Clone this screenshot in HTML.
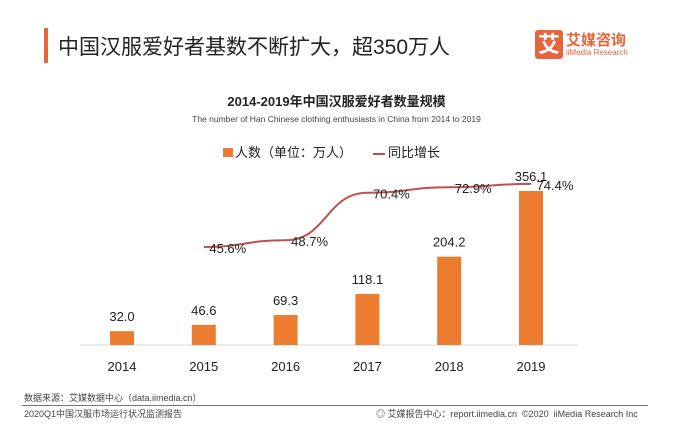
<!DOCTYPE html>
<html><head><meta charset="utf-8"><style>
body{margin:0;width:673px;height:438px;background:#fff;font-family:"Liberation Sans","Noto Sans CJK SC",sans-serif;overflow:hidden;position:relative}
.a{position:absolute;white-space:nowrap}
</style></head><body>
<div class="a" style="left:44px;top:28px;width:4px;height:35px;background:#e8643c"></div>
<div class="a" style="left:58px;top:31px;font-size:21px;color:#222">中国汉服爱好者基数不断扩大，超350万人</div>
<div class="a" style="left:535px;top:30px;width:28px;height:29px;background:#e8643c;border-radius:3px;color:#fff;font-size:22px;line-height:29px;text-align:center;font-weight:bold">艾</div>
<div class="a" style="left:566px;top:29px;font-size:15px;color:#e8643c;font-weight:bold">艾媒咨询</div>
<div class="a" style="left:566px;top:48px;font-size:8px;color:#e8643c">iiMedia Research</div>
<div class="a" style="left:0;width:673px;text-align:center;top:91px;font-size:13px;font-weight:bold;color:#222">2014-2019年中国汉服爱好者数量规模</div>
<div class="a" style="left:0;width:673px;text-align:center;top:114px;font-size:8.5px;color:#444">The number of Han Chinese clothing enthusiasts in China from 2014 to 2019</div>
<div class="a" style="left:223px;top:142px;font-size:13px;color:#222"><span style="display:inline-block;width:10px;height:9px;background:#ec7c30;margin-right:2px"></span>人数（单位：万人）</div>
<div class="a" style="left:373px;top:142px;font-size:13px;color:#222"><span style="display:inline-block;width:12px;height:2px;background:#c0504d;vertical-align:middle;margin-right:3px"></span>同比增长</div>
<svg class="a" style="left:0;top:0" width="673" height="438">
<line x1="80" y1="345" x2="578" y2="345" stroke="#d9d9d9"/>
<g id="g"></g></svg>
<div class="a" style="left:24px;top:391px;font-size:9px;color:#444">数据来源：艾媒数据中心（data.iimedia.cn）</div>
<div class="a" style="left:22px;top:405px;width:626px;height:1px;background:#777"></div>
<div class="a" style="left:24px;top:407px;font-size:9px;color:#444">2020Q1中国汉服市场运行状况监测报告</div>
<div class="a" style="left:376px;top:407px;font-size:9px;color:#444">◎ 艾媒报告中心：report.iimedia.cn &nbsp;©2020 &nbsp;iiMedia Research Inc</div>
<script>
const years=['2014','2015','2016','2017','2018','2019'];
const counts=[32.0,46.6,69.3,118.1,204.2,356.1];
const growth=[null,45.6,48.7,70.4,72.9,74.4];
const ns='http://www.w3.org/2000/svg',g=document.getElementById('g');
const x=i=>122+i*81.8, y=v=>345-v*0.4325, yl=v=>247-(v-45.6)*2.19;
function mk(t,a){const e=document.createElementNS(ns,t);for(const k in a)e.setAttribute(k,a[k]);g.appendChild(e);return e;}
years.forEach((yr,i)=>{
 const r=mk('rect',{x:x(i)-12,y:y(counts[i]),width:24,height:345-y(counts[i]),fill:'#ec7c30'});
 
 
 const t=mk('text',{x:x(i),y:y(counts[i])-10,'text-anchor':'middle','font-size':13,fill:'#222'});t.textContent=counts[i].toFixed(1);
 
 
 const l=mk('text',{x:x(i),y:371,'text-anchor':'middle','font-size':13,fill:'#222'});l.textContent=yr;
 
 
});
const pts=[];growth.forEach((v,i)=>{if(v!=null)pts.push([x(i),yl(v),v,years[i]]);});
let d='M'+pts[0][0]+','+pts[0][1];
for(let k=1;k<pts.length;k++){const p=pts[k-1],q=pts[k],m=(p[0]+q[0])/2;d+=' C'+m+','+p[1]+' '+m+','+q[1]+' '+q[0]+','+q[1];}
const path=mk('path',{d:d,fill:'none',stroke:'#c0504d','stroke-width':2});


pts.forEach(p=>{const t=mk('text',{x:p[0]+24,y:p[1]+6,'text-anchor':'middle','font-size':13,fill:'#222'});t.textContent=p[2].toFixed(1)+'%';
 
 });
</script>
</body></html>
